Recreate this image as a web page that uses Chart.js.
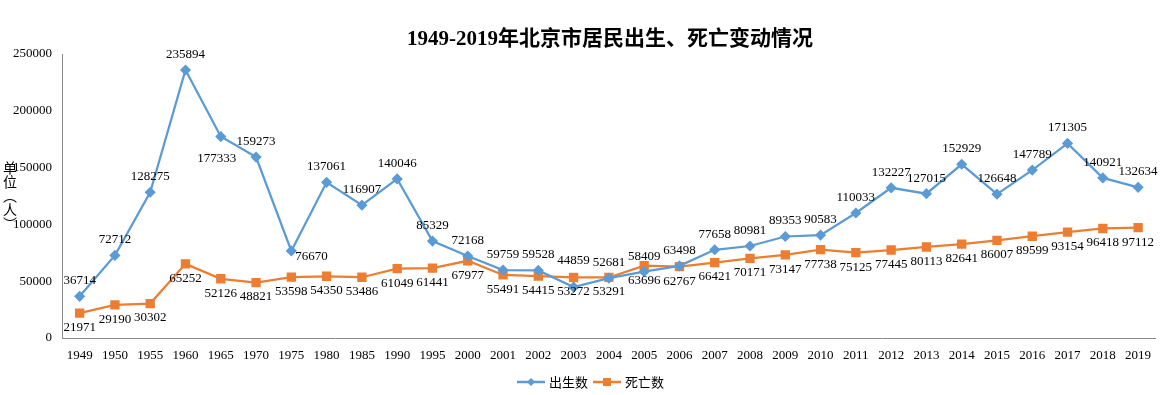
<!DOCTYPE html>
<html>
<head>
<meta charset="utf-8">
<script src="https://cdn.jsdelivr.net/npm/chart.js@4.4.1/dist/chart.umd.min.js"></script>
<style>
  html, body { margin: 0; padding: 0; background: #fff; }
  #wrap { width: 1163px; height: 395px; }
</style>
</head>
<body>
<div id="wrap"><canvas id="chart" width="1163" height="395"></canvas></div>
<script>
const years = ['1949', '1950', '1955', '1960', '1965', '1970', '1975', '1980', '1985', '1990', '1995', '2000',
  '2001', '2002', '2003', '2004', '2005', '2006', '2007', '2008', '2009', '2010', '2011', '2012', '2013',
  '2014', '2015', '2016', '2017', '2018', '2019'];
const nacimientos = [36714, 72712, 128275, 235894, 177333, 159273, 76670, 137061, 116907, 140046, 85329, 72168,
  59759, 59528, 44859, 52681, 58409, 63498, 77658, 80981, 89353, 90583, 110033, 132227, 127015,
  152929, 126648, 147789, 171305, 140921, 132634];
const defunciones = [21971, 29190, 30302, 65252, 52126, 48821, 53598, 54350, 53486, 61049, 61441, 67977,
  55491, 54415, 53272, 53291, 63696, 62767, 66421, 70171, 73147, 77738, 75125, 77445, 80113,
  82641, 86007, 89599, 93154, 96418, 97112];
const yTicks = [0, 50000, 100000, 150000, 200000, 250000];

const titulo = '1949-2019年北京市居民出生、死亡变动情况';
const tituloEje = ['单', '位', '︵', '人', '︶'];
const azul = '#5B9BD5';
const naranja = '#ED7D31';
const fuenteNum = '"Liberation Serif", "Noto Sans CJK SC", serif';

// etiquetas de datos: nacimientos arriba, defunciones abajo
const etiquetasPlugin = {
  id: 'etiquetas',
  afterDatasetsDraw(chart) {
    const ctx = chart.ctx;
    ctx.save();
    ctx.font = '13px ' + fuenteNum;
    ctx.fillStyle = '#000';
    ctx.textAlign = 'center';
    chart.data.datasets.forEach((ds, i) => {
      const meta = chart.getDatasetMeta(i);
      meta.data.forEach((pt, j) => {
        const texto = String(ds.data[j]);
        if (i === 0) {
          if (years[j] === '1965') {
            ctx.textBaseline = 'top';
            ctx.fillText(texto, pt.x - 4, pt.y + 16);
          } else if (years[j] === '1975') {
            ctx.textAlign = 'left';
            ctx.textBaseline = 'middle';
            ctx.fillText(texto, pt.x + 4, pt.y + 6);
            ctx.textAlign = 'center';
          } else if (years[j] === '2003') {
            ctx.textBaseline = 'bottom';
            ctx.fillText(texto, pt.x, pt.y - 20);
          } else {
            ctx.textBaseline = 'bottom';
            ctx.fillText(texto, pt.x, pt.y - 9);
          }
        } else {
          ctx.textBaseline = 'top';
          ctx.fillText(texto, pt.x, pt.y + 8);
        }
      });
    });
    ctx.restore();
  }
};

const decoracionPlugin = {
  id: 'decoracion',
  afterDraw(chart) {
    const ctx = chart.ctx;
    ctx.save();
    // titulo
    ctx.fillStyle = '#000';
    ctx.font = 'bold 21px ' + fuenteNum;
    ctx.textAlign = 'center';
    ctx.textBaseline = 'middle';
    ctx.fillText(titulo, 610, 40);

    // titulo del eje y, vertical
    ctx.font = '14px "Noto Sans CJK SC", sans-serif';
    tituloEje.forEach((c, k) => {
      ctx.fillText(c, 10, 168 + k * 14);
    });

    // leyenda
    const yl = 382;
    ctx.lineWidth = 2.5;
    ctx.strokeStyle = azul;
    ctx.beginPath(); ctx.moveTo(517, yl); ctx.lineTo(545, yl); ctx.stroke();
    ctx.fillStyle = azul;
    ctx.beginPath();
    ctx.moveTo(531, yl - 4); ctx.lineTo(535, yl); ctx.lineTo(531, yl + 4); ctx.lineTo(527, yl);
    ctx.closePath(); ctx.fill();
    ctx.strokeStyle = naranja;
    ctx.beginPath(); ctx.moveTo(593, yl); ctx.lineTo(621, yl); ctx.stroke();
    ctx.fillStyle = naranja;
    ctx.fillRect(603, yl - 4, 8, 8);
    ctx.fillStyle = '#000';
    ctx.font = '13px "Noto Sans CJK SC", sans-serif';
    ctx.textAlign = 'left';
    ctx.fillText('出生数', 549, yl);
    ctx.fillText('死亡数', 625, yl);
    ctx.restore();
  }
};

const ctx = document.getElementById('chart').getContext('2d');
new Chart(ctx, {
  type: 'line',
  data: {
    labels: years,
    datasets: [{
      label: '出生数',
      data: nacimientos,
      borderColor: azul,
      backgroundColor: azul,
      borderWidth: 2.25,
      pointStyle: 'rectRot',
      pointRadius: 4,
      tension: 0
    }, {
      label: '死亡数',
      data: defunciones,
      borderColor: naranja,
      backgroundColor: naranja,
      borderWidth: 2.25,
      pointStyle: 'rect',
      pointRadius: 5,
      tension: 0
    }]
  },
  options: {
    responsive: false,
    animation: false,
    layout: { padding: { top: 54, right: 6, bottom: 0, left: 0 } },
    plugins: {
      legend: { display: false },
      title: { display: false },
      tooltip: { enabled: false }
    },
    scales: {
      x: {
        offset: true,
        grid: { display: false, drawTicks: false },
        border: { display: true, color: '#898989', width: 1 },
        ticks: { color: '#000', font: { family: fuenteNum, size: 13 }, padding: 10, maxRotation: 0, autoSkip: false },
        afterFit(scale) { scale.height = 57; }
      },
      y: {
        min: 0,
        max: 250000,
        grid: { display: false, drawTicks: false },
        border: { display: true, color: '#898989', width: 1 },
        afterBuildTicks(scale) { scale.ticks = yTicks.map(v => ({ value: v })); },
        ticks: {
          color: '#000',
          font: { family: fuenteNum, size: 13 },
          padding: 10,
          callback: v => String(v)
        },
        afterFit(scale) { scale.width = 62; }
      }
    }
  },
  plugins: [etiquetasPlugin, decoracionPlugin]
});
</script>
</body>
</html>
